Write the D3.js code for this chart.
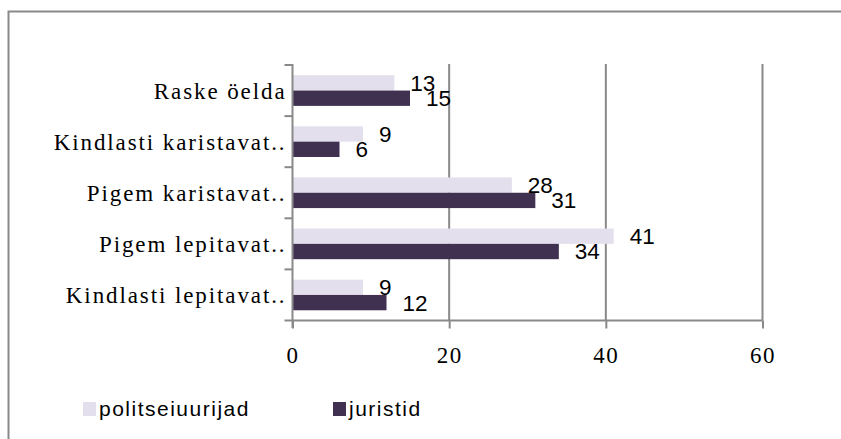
<!DOCTYPE html>
<html>
<head>
<meta charset="utf-8">
<script src="https://cdn.jsdelivr.net/npm/d3@7"></script>
<style>
  body { margin: 0; background: #fff; }
  svg { display: block; }
</style>
</head>
<body>
<svg id="chart" width="841" height="439"></svg>
<script>
let categories = ['Raske öelda', 'Kindlasti karistavat..', 'Pigem karistavat..', 'Pigem lepitavat..', 'Kindlasti lepitavat..']
let seriesNames = ['politseiuurijad', 'juristid']
let politseiuurijad = [13, 9, 28, 41, 9]
let juristid = [15, 6, 31, 34, 12]
let xTicks = [0, 20, 40, 60]

let colors = ['#e4dfec', '#403151']
let gridColor = '#898989'

let svg = d3.select('#chart')

// outer frame (runs off the right and bottom edges)
svg.append('path')
    .attr('d', 'M8.5,445 V11.5 H850')
    .attr('fill', 'none')
    .attr('stroke', gridColor)
    .attr('stroke-width', 2)

let x = d3.scaleLinear().domain([0, 60]).range([292.5, 762.5])
let y = d3.scaleBand()
    .domain(categories)
    .range([65, 320.5])
    .paddingInner(0.4)
    .paddingOuter(0.2)
let ySub = d3.scaleBand().domain(seriesNames).range([0, y.bandwidth()])

let rows = categories.map((c, i) => ({
    cat: c,
    values: [
        { key: 'politseiuurijad', value: politseiuurijad[i] },
        { key: 'juristid', value: juristid[i] }
    ]
}))

// vertical gridlines
svg.append('g')
    .selectAll('line')
    .data(xTicks.slice(1))
    .enter()
    .append('line')
    .attr('x1', d => x(d))
    .attr('x2', d => x(d))
    .attr('y1', 64)
    .attr('y2', 320.5)
    .attr('stroke', gridColor)
    .attr('stroke-width', 2)

// bars
let groups = svg.append('g')
    .selectAll('g')
    .data(rows)
    .enter()
    .append('g')
    .attr('transform', d => 'translate(0,' + y(d.cat) + ')')

groups.selectAll('rect')
    .data(d => d.values)
    .enter()
    .append('rect')
    .attr('x', x(0))
    .attr('y', d => ySub(d.key))
    .attr('width', d => x(d.value) - x(0))
    .attr('height', ySub.bandwidth())
    .attr('fill', (d, i) => colors[i])

// data labels
groups.selectAll('text')
    .data(d => d.values)
    .enter()
    .append('text')
    .attr('x', d => x(d.value) + 16)
    .attr('y', d => ySub(d.key) + ySub.bandwidth() / 2 + 2)
    .attr('dominant-baseline', 'middle')
    .attr('font-family', 'Liberation Sans, Arial, sans-serif')
    .attr('font-size', 22.5)
    .attr('fill', '#000')
    .text(d => d.value)

// x axis
let xAxis = svg.append('g')
    .attr('transform', 'translate(0,320.5)')
    .call(d3.axisBottom(x).tickValues(xTicks).tickSize(8).tickPadding(18).tickFormat(d3.format('d')))
xAxis.select('.domain')
    .attr('d', 'M' + (x(0) - 8) + ',0H' + x(60))
xAxis.selectAll('line, path')
    .attr('stroke', gridColor)
    .attr('stroke-width', 2)
xAxis.selectAll('text')
    .attr('font-family', 'Liberation Serif, Times New Roman, serif')
    .attr('font-size', 23)
    .attr('letter-spacing', 1.5)
    .attr('fill', '#000')

// y axis
let yAxisG = svg.append('g')
    .attr('transform', 'translate(' + x(0) + ',0)')
yAxisG.append('line')
    .attr('y1', 64)
    .attr('y2', 328)
    .attr('stroke', gridColor)
    .attr('stroke-width', 2)
let boundaries = categories.map(c => y(c) - y.step() * y.paddingInner() / 2)
yAxisG.selectAll('.ytick')
    .data(boundaries)
    .enter()
    .append('line')
    .attr('class', 'ytick')
    .attr('x1', -8)
    .attr('x2', 0)
    .attr('y1', d => d)
    .attr('y2', d => d)
    .attr('stroke', gridColor)
    .attr('stroke-width', 2)

yAxisG.selectAll('.ylabel')
    .data(categories)
    .enter()
    .append('text')
    .attr('class', 'ylabel')
    .attr('x', -6)
    .attr('y', d => y(d) + y.bandwidth() / 2 + 8)
    .attr('text-anchor', 'end')
    .attr('font-family', 'Liberation Serif, Times New Roman, serif')
    .attr('font-size', 23)
    .attr('letter-spacing', 1.9)
    .attr('fill', '#000')
    .text(d => d)

// legend
let legendX = [83, 333]
let legend = svg.append('g')
    .selectAll('g')
    .data(seriesNames)
    .enter()
    .append('g')
    .attr('transform', (d, i) => 'translate(' + legendX[i] + ',402)')
legend.append('rect')
    .attr('width', 13)
    .attr('height', 14)
    .attr('fill', (d, i) => colors[i])
legend.append('text')
    .attr('x', 16)
    .attr('y', 14)
    .attr('font-family', 'Liberation Sans, Arial, sans-serif')
    .attr('font-size', 21)
    .attr('letter-spacing', 1.5)
    .attr('fill', '#000')
    .text(d => d)
</script>
</body>
</html>
